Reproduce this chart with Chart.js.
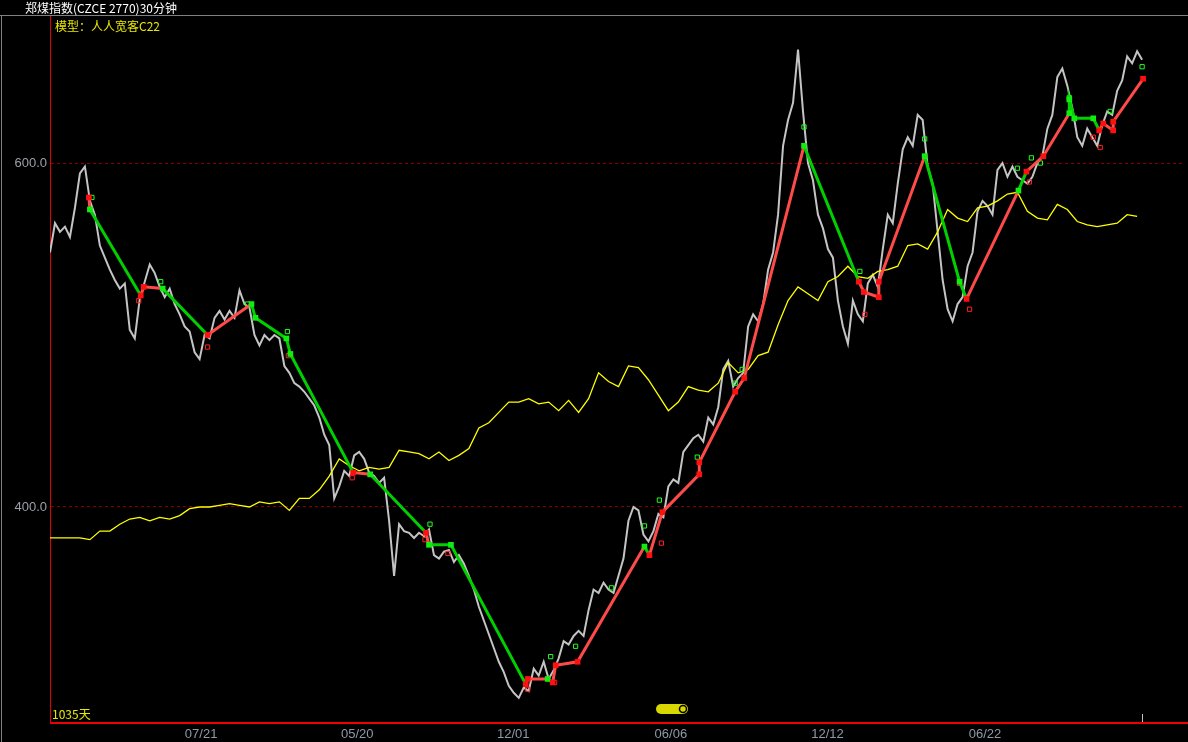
<!DOCTYPE html>
<html>
<head>
<meta charset="utf-8">
<script src="https://cdn.jsdelivr.net/npm/chart.js@4.4.1/dist/chart.umd.min.js"></script>
<style>
  body { margin: 0; background: #000; }
  #wrap { position: relative; width: 1188px; height: 742px; }
  canvas { position: absolute; left: 0; top: 0; }
  .txt { position: absolute; white-space: nowrap; font-family: "Noto Sans CJK SC", sans-serif; font-size: 12px; line-height: 14px; }
  #titulo { left: 25px; top: 1px; color: #ffffff; }
  #modelo { left: 55px; top: 19px; color: #e8e800; }
  #dias { left: 52px; top: 707px; color: #e8e800; }
</style>
</head>
<body>
<div id="wrap">
  <canvas id="grafico" width="1188" height="742"></canvas>
  <div class="txt" id="titulo">郑煤指数(CZCE 2770)30分钟</div>
  <div class="txt" id="modelo">模型：人人宽客C22</div>
  <div class="txt" id="dias">1035天</div>
</div>
<script>
// 价格 (每5个像素一个采样)
const precio = [
  548, 565, 560, 563, 557, 574, 594, 598, 578, 570,
  552, 545, 538, 532, 527, 530, 503, 498, 521, 531,
  541, 536, 528, 522, 527, 518, 512, 505, 502, 490,
  486, 500, 498, 510, 514, 509, 514, 510, 526, 518,
  516, 500, 494, 500, 497, 500, 498, 482, 478, 472,
  470, 467, 463, 459, 452, 442, 436, 405, 412, 421,
  418, 430, 432, 428, 420, 418, 414, 417, 392, 360,
  390, 386, 385, 382, 385, 383, 387, 372, 370, 374,
  375, 368, 372, 367, 360, 352, 342, 334, 326, 318,
  310, 304, 296, 292, 289, 295, 293, 306, 302, 310,
  300, 305, 312, 322, 320, 325, 328, 325, 340, 352,
  350, 356, 352, 350, 360, 370, 392, 400, 398, 384,
  380, 386, 396, 394, 412, 416, 414, 432, 436, 440,
  442, 438, 452, 448, 458, 480, 485, 470, 475, 478,
  505, 512, 508, 518, 538, 548, 570, 610, 625, 635,
  666, 630, 600, 590, 570, 562, 550, 545, 520, 505,
  495, 520, 512, 508, 530, 535, 528, 550, 570, 565,
  588, 608, 615, 610, 628, 625, 598, 588, 560, 532,
  515, 508, 518, 522, 540, 548, 572, 578, 575, 570,
  596, 600, 592, 598, 592, 590, 588, 592, 600, 604,
  620, 628, 650, 655, 645, 632, 615, 610, 620, 615,
  610, 622, 630, 628, 642, 648, 662, 658, 665, 660
]

// 模型资金曲线 (每两个采样一个点)
const modelo = [
  382, 382, 382, 382, 381, 386, 386, 390, 393, 394,
  392, 394, 393, 395, 399, 400, 400, 401, 402, 401,
  400, 403, 402, 403, 398, 405, 405, 410, 418, 428,
  424, 421, 423, 422, 423, 433, 432, 431, 428, 432,
  427, 430, 434, 446, 449, 455, 461, 461, 463, 460,
  461, 456, 462, 455, 463, 478, 473, 470, 482, 481,
  474, 465, 456, 461, 470, 468, 467, 472, 484, 478,
  480, 488, 490, 506, 520, 528, 524, 520, 531, 534,
  540, 534, 533, 537, 538, 540, 552, 553, 550, 560,
  573, 568, 566, 574, 575, 578, 582, 583, 572, 568,
  567, 576, 573, 566, 564, 563, 564, 565, 570, 569
]

// 信号连线: 位置, 价格, 方向 (L 多 / S 空)
const senalX = [7.8, 8.0, 18.2, 18.8, 22.6, 31.6, 40.4, 41.2, 47.4, 48.2,
  60.8, 64.2, 75.4, 76.0, 80.4, 95.4, 95.8, 99.8, 100.8, 101.4,
  105.8, 119.2, 120.2, 122.8, 130.2, 130.2, 137.4, 139.2, 151.2, 162.2,
  163.2, 166.2, 166.2, 175.4, 182.4, 183.8, 194.2, 195.8, 199.2, 204.4,
  204.4, 205.4, 209.2, 210.4, 211.2, 213.2, 213.2, 219.2]
const senalY = [580, 573, 523, 528, 527, 500, 518, 510, 498, 489,
  420, 419, 385, 378, 378, 297, 300, 300, 298, 308,
  310, 377, 372, 397, 419, 426, 467, 475, 610, 531,
  525, 522, 531, 604, 531, 521, 584, 595, 604, 629,
  637, 626, 626, 619, 623, 619, 624, 649]
const senalLado = ['L', 'S', 'L', 'L', 'S', 'L', 'S', 'S', 'S', 'S',
  'L', 'S', 'L', 'S', 'S', 'L', 'L', 'S', 'L', 'L',
  'L', 'S', 'L', 'L', 'L', 'L', 'L', 'L', 'S', 'L',
  'L', 'L', 'L', 'S', 'S', 'L', 'S', 'L', 'L', 'S',
  'S', 'S', 'S', 'L', 'L', 'L', 'L', 'L']

// 空心标记
const marcaX = [8.4, 17.8, 22.2, 31.6, 39.6, 47.6, 47.8, 60.6, 76.2, 75.2,
  79.8, 95.8, 100.4, 101.2, 105.4, 112.6, 119.2, 122.2, 122.6, 129.8,
  137.4, 138.8, 151.2, 162.4, 163.4, 175.4, 182.4, 184.4, 194.0, 196.8,
  198.6, 196.4, 204.4, 209.2, 210.6, 212.6, 219.0]
const marcaY = [580, 520, 531, 493, 518, 502, 488, 417, 390, 381,
  373, 294, 313, 298, 319, 353, 389, 404, 379, 429,
  472, 480, 621, 537, 512, 614, 530, 515, 597, 603,
  600, 589, 638, 615, 609, 630, 656]
const marcaLado = ['S', 'L', 'S', 'L', 'S', 'S', 'L', 'L', 'S', 'L',
  'L', 'L', 'S', 'L', 'S', 'S', 'S', 'S', 'L', 'S',
  'S', 'S', 'S', 'S', 'L', 'S', 'L', 'L', 'S', 'S',
  'S', 'L', 'S', 'L', 'L', 'S', 'S']

const etiquetas = ['07/21', '05/20', '12/01', '06/06', '12/12', '06/22']
const posEtiquetas = [30.3, 61.6, 92.9, 124.5, 155.9, 187.5]
const ticksY = [400, 600]

const ROJO = '#ff4a4a'
const VERDE = '#00d000'

const decoracion = {
  id: 'decoracion',
  beforeDraw(chart) {
    const c = chart.ctx
    c.save()
    c.fillStyle = '#000'
    c.fillRect(0, 0, chart.width, chart.height)
    c.strokeStyle = '#808080'
    c.lineWidth = 1
    c.beginPath()
    c.moveTo(0, 15.5); c.lineTo(chart.width, 15.5)
    c.moveTo(1.5, 16); c.lineTo(1.5, chart.height)
    c.stroke()
    c.restore()
  },
  afterDraw(chart) {
    const c = chart.ctx
    const x = chart.scales.x
    const area = chart.chartArea
    c.save()
    // 底部红线
    const yb = Math.round(area.bottom)
    c.strokeStyle = '#ee0000'
    c.lineWidth = 2
    c.beginPath()
    c.moveTo(area.left, yb); c.lineTo(chart.width, yb)
    c.stroke()
    // 最后一根K线的位置
    const xu = Math.round(x.getPixelForValue(precio.length - 1)) + 0.5
    c.strokeStyle = '#c0c0c0'
    c.lineWidth = 1
    c.beginPath()
    c.moveTo(xu, yb - 9); c.lineTo(xu, yb - 1)
    c.stroke()
    // 滚动条
    c.fillStyle = '#d8d800'
    c.beginPath()
    c.moveTo(661, 704); c.lineTo(683, 704)
    c.arc(683, 709, 5, -Math.PI / 2, Math.PI / 2)
    c.lineTo(661, 714)
    c.arc(661, 709, 5, Math.PI / 2, Math.PI * 1.5)
    c.fill()
    c.strokeStyle = '#000'
    c.lineWidth = 1.5
    c.beginPath()
    c.arc(683, 709, 3.5, 0, Math.PI * 2)
    c.stroke()
    c.restore()
  }
}

const ctx = document.querySelector('#grafico')
const grafica = new Chart(ctx, {
  type: 'line',
  data: {
    datasets: [
      {
        label: 'senal',
        data: senalX.map((x, i) => ({ x: x, y: senalY[i] })),
        borderWidth: 3,
        borderColor: ROJO,
        segment: {
          borderColor: c => senalLado[c.p0DataIndex] === 'L' ? ROJO : VERDE
        },
        pointStyle: 'rect',
        pointRadius: 4,
        pointBorderWidth: 0,
        pointBackgroundColor: senalLado.map(l => l === 'L' ? '#ff1010' : '#10ee10'),
        tension: 0,
        order: 0
      },
      {
        label: 'marcas',
        data: marcaX.map((x, i) => ({ x: x, y: marcaY[i] })),
        showLine: false,
        pointStyle: 'rect',
        pointRadius: 3,
        pointBorderWidth: 1,
        pointBackgroundColor: 'rgba(0,0,0,0)',
        pointBorderColor: marcaLado.map(l => l === 'L' ? '#ff2020' : '#20ff20'),
        order: 1
      },
      {
        label: 'modelo',
        data: modelo.map((v, i) => ({ x: i * 2, y: v })),
        borderColor: '#ffff00',
        borderWidth: 1.3,
        pointRadius: 0,
        order: 2
      },
      {
        label: 'precio',
        data: precio.map((v, i) => ({ x: i, y: v })),
        borderColor: '#c4c4c4',
        borderWidth: 2,
        pointRadius: 0,
        order: 3
      }
    ]
  },
  options: {
    responsive: false,
    animation: false,
    layout: { padding: { top: 16, right: 1, left: 0, bottom: 0 } },
    plugins: {
      legend: { display: false },
      tooltip: { enabled: false }
    },
    scales: {
      x: {
        type: 'linear',
        min: 0,
        max: 227.2,
        afterFit: s => { s.height = 19 },
        afterBuildTicks: s => { s.ticks = posEtiquetas.map(v => ({ value: v })) },
        ticks: {
          callback: v => etiquetas[posEtiquetas.indexOf(v)],
          color: '#8e9aa6',
          font: { family: 'Liberation Sans', size: 13 },
          padding: 4,
          maxRotation: 0,
          autoSkip: false
        },
        grid: { display: false, drawTicks: false },
        border: { display: false }
      },
      y: {
        min: 274.4,
        max: 685.5,
        afterFit: s => { s.width = 50 },
        afterBuildTicks: s => { s.ticks = ticksY.map(v => ({ value: v })) },
        ticks: {
          callback: v => v.toFixed(1),
          color: '#9aa0a8',
          font: { family: 'Liberation Sans', size: 13 },
          padding: 3
        },
        grid: { color: '#8a0000', lineWidth: 1, drawTicks: false },
        border: { color: '#e00000', width: 1, dash: [3, 3] }
      }
    }
  },
  plugins: [decoracion]
})
</script>
</body>
</html>
